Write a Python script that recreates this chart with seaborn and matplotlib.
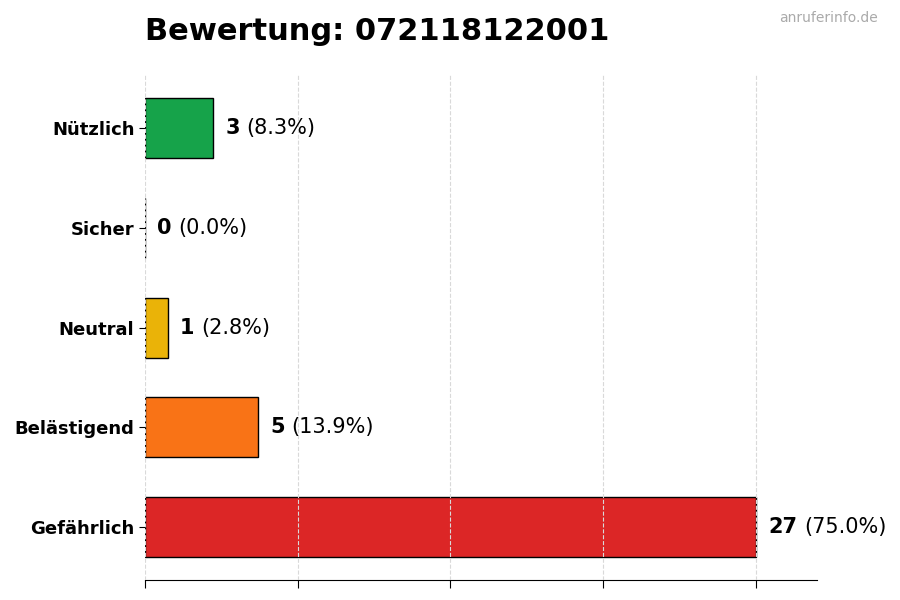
import matplotlib
matplotlib.use("Agg")
import matplotlib.pyplot as plt
import seaborn as sns
import pandas as pd

categories = ["Nützlich", "Sicher", "Neutral", "Belästigend", "Gefährlich"]
counts = [3, 0, 1, 5, 27]
colors = ["#16a34a", "#3b82f6", "#eab308", "#f97316", "#dc2626"]
title = "Bewertung: 072118122001"
watermark = "anruferinfo.de"

total = sum(counts)
df = pd.DataFrame({"Kategorie": categories, "Anzahl": counts})

sns.set_style("white")
plt.rcParams['font.family'] = ['DejaVu Sans']
plt.rcParams['text.color'] = 'black'
plt.rcParams['xtick.color'] = 'black'
plt.rcParams['ytick.color'] = 'black'
plt.rcParams['axes.labelcolor'] = 'black'

fig = plt.figure(figsize=(9, 6), dpi=100)
ax = fig.add_axes([0.161, 0.033, 0.747, 0.842])

sns.barplot(data=df, y="Kategorie", x="Anzahl", hue="Kategorie",
            palette=dict(zip(categories, colors)), orient="h", saturation=1,
            width=0.6, edgecolor="black", linewidth=1, legend=False, ax=ax)

mx = max(counts)
ax.set_xlim(0, mx * 1.1)
ax.set_ylim(len(categories) - 0.47, -0.53)
ax.set_xticks([mx * i / 4 for i in range(5)])
ax.set_xticklabels([])
ax.xaxis.grid(True, linestyle="--", color="#d9d9d9", linewidth=0.8, zorder=3)
ax.set_axisbelow(False)
ax.set_xlabel("")
ax.set_ylabel("")
for s in ["top", "right", "left"]:
    ax.spines[s].set_visible(False)
ax.spines["bottom"].set_color("black")
ax.tick_params(axis="x", bottom=True, length=6, color="black")
ax.tick_params(axis="y", left=True, length=4, color="black", labelcolor="black")
for lab in ax.get_yticklabels():
    lab.set_fontweight("bold")
    lab.set_fontsize(13)
    lab.set_color("black")

for i, c in enumerate(counts):
    t = ax.annotate(str(c), xy=(c, i), xytext=(9, 0), textcoords="offset points",
                    va="center", ha="left", fontsize=15, fontweight="bold", color="black")
    pct = 100 * c / total
    ax.annotate(f"({pct:.1f}%)", xy=(1, 0.5), xycoords=t, xytext=(4.5, 0),
                textcoords="offset points", va="center", ha="left", fontsize=15,
                color="black")

fig.text(0.161, 0.948, title, fontsize=22, fontweight="bold", ha="left", va="center",
         color="black")
fig.text(0.975, 0.97, watermark, fontsize=10, color="#aaaaaa", ha="right", va="center")

fig.savefig("out.png", dpi=100)
